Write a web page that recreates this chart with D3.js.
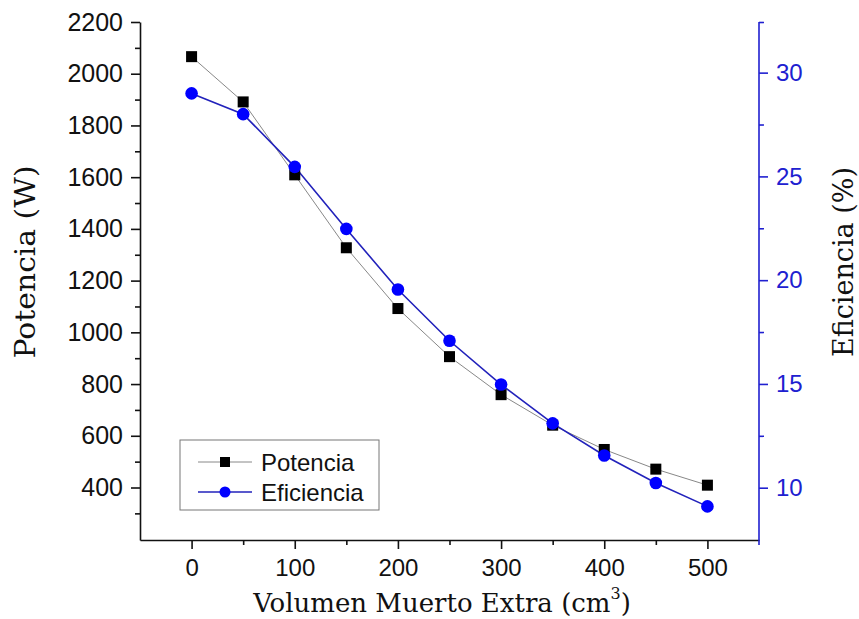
<!DOCTYPE html>
<html><head><meta charset="utf-8">
<script src="https://cdn.jsdelivr.net/npm/d3@7"></script>
<style>body{margin:0;background:#fff}svg{display:block}</style>
</head><body>
<svg id="c" width="859" height="619"></svg>
<script>
const volumen = [0, 50, 100, 150, 200, 250, 300, 350, 400, 450, 500];
const potencia = [2066, 1891, 1609, 1327, 1092, 906, 759, 641, 547, 471, 409];
const eficiencia = [29.0, 28.0, 25.46, 22.47, 19.55, 17.08, 14.97, 13.1, 11.55, 10.23, 9.1];
const xTicks = [0, 100, 200, 300, 400, 500];
const yLeftTicks = [400, 600, 800, 1000, 1200, 1400, 1600, 1800, 2000, 2200];
const yRightTicks = [10, 15, 20, 25, 30];

const svg = d3.select("#c");
const L = 140, R = 759, T = 22, B = 540;
const x = d3.scaleLinear().domain([-50, 550]).range([L, R]);
const yL = d3.scaleLinear().domain([197, 2200]).range([B, T]);
const yR = d3.scaleLinear().domain([7.48, 32.44]).range([B, T]);
const blue = "#2020d0";
const sans = "Liberation Sans, Arial, sans-serif";
const serif = "DejaVu Serif, serif";
const fmt = d3.format("d");

// bottom axis
const gx = svg.append("g").attr("transform", `translate(0,${B})`)
  .call(d3.axisBottom(x).tickValues(xTicks).tickFormat(fmt).tickSize(9).tickPadding(10).tickSizeOuter(0));
gx.append("g").call(d3.axisBottom(x).tickValues(d3.range(50, 550, 100)).tickSize(5).tickFormat("").tickSizeOuter(0))
  .select(".domain").remove();
gx.selectAll("text").attr("font-family", sans).attr("font-size", 24).attr("fill", "#111");
gx.selectAll("line,path").attr("stroke", "#111").attr("stroke-width", 1.6);

// left axis
const gl = svg.append("g").attr("transform", `translate(${L},0)`)
  .call(d3.axisLeft(yL).tickValues(yLeftTicks).tickFormat(fmt).tickSize(9).tickPadding(8).tickSizeOuter(0));
gl.append("g").call(d3.axisLeft(yL).tickValues(d3.range(300, 2200, 200)).tickSize(5).tickFormat("").tickSizeOuter(0))
  .select(".domain").remove();
gl.selectAll("text").attr("font-family", sans).attr("font-size", 25).attr("fill", "#111");
gl.selectAll("line,path").attr("stroke", "#111").attr("stroke-width", 1.6);

// right axis
const gr = svg.append("g").attr("transform", `translate(${R},0)`)
  .call(d3.axisRight(yR).tickValues(yRightTicks).tickFormat(fmt).tickSize(9).tickPadding(8).tickSizeOuter(0));
gr.append("g").call(d3.axisRight(yR).tickValues([12.5, 17.5, 22.5, 27.5, 32.44]).tickSize(5).tickFormat("").tickSizeOuter(0))
  .select(".domain").remove();
gr.selectAll("text").attr("font-family", sans).attr("font-size", 24).attr("fill", blue);
gr.selectAll("line,path").attr("stroke", blue).attr("stroke-width", 1.6);
gr.select(".domain").attr("d", `M0,${T}V${B + 5}`);

// lines
const lineP = d3.line().x((d, i) => x(volumen[i])).y(d => yL(d));
const lineE = d3.line().x((d, i) => x(volumen[i])).y(d => yR(d));
svg.append("path").attr("d", lineP(potencia)).attr("fill", "none").attr("stroke", "#888").attr("stroke-width", 1);
svg.append("path").attr("d", lineE(eficiencia)).attr("fill", "none").attr("stroke", "#2222bb").attr("stroke-width", 1.6);
svg.selectAll(".sq").data(potencia).enter().append("rect")
  .attr("x", (d, i) => x(volumen[i]) - 5.5).attr("y", d => yL(d) - 5.5)
  .attr("width", 11).attr("height", 11).attr("fill", "#000");
svg.selectAll(".ci").data(eficiencia).enter().append("circle")
  .attr("cx", (d, i) => x(volumen[i])).attr("cy", d => yR(d)).attr("r", 6.3).attr("fill", "#0000ff");

// legend
const lg = svg.append("g");
lg.append("rect").attr("x", 180).attr("y", 440).attr("width", 199).attr("height", 70)
  .attr("fill", "#fff").attr("stroke", "#777").attr("stroke-width", 1);
lg.append("line").attr("x1", 198).attr("x2", 252).attr("y1", 462).attr("y2", 462).attr("stroke", "#888").attr("stroke-width", 1);
lg.append("rect").attr("x", 220).attr("y", 457).attr("width", 10).attr("height", 10).attr("fill", "#000");
lg.append("line").attr("x1", 198).attr("x2", 252).attr("y1", 492).attr("y2", 492).attr("stroke", "#2222bb").attr("stroke-width", 1.4);
lg.append("circle").attr("cx", 225).attr("cy", 492).attr("r", 5.5).attr("fill", "#0000ff");
lg.append("text").attr("x", 261).attr("y", 471).text("Potencia").attr("font-family", sans).attr("font-size", 24).attr("fill", "#111");
lg.append("text").attr("x", 261).attr("y", 501).text("Eficiencia").attr("font-family", sans).attr("font-size", 24).attr("fill", "#111");

// titles
svg.append("text").attr("transform", "translate(35,262) rotate(-90)").attr("text-anchor", "middle")
  .attr("font-family", serif).attr("font-size", 28).attr("textLength", 193).attr("lengthAdjust", "spacingAndGlyphs")
  .attr("fill", "#111").text("Potencia (W)");
svg.append("text").attr("transform", "translate(853,262) rotate(-90)").attr("text-anchor", "middle")
  .attr("font-family", serif).attr("font-size", 28).attr("textLength", 190).attr("lengthAdjust", "spacingAndGlyphs")
  .attr("fill", "#111").text("Eficiencia (%)");
const xt = svg.append("text").attr("x", 442).attr("y", 612).attr("text-anchor", "middle")
  .attr("font-family", serif).attr("font-size", 26).attr("fill", "#111");
xt.append("tspan").text("Volumen Muerto Extra (cm");
xt.append("tspan").text("3").attr("font-size", 16).attr("dy", -13);
xt.append("tspan").text(")").attr("dy", 13);
</script>
</body></html>
